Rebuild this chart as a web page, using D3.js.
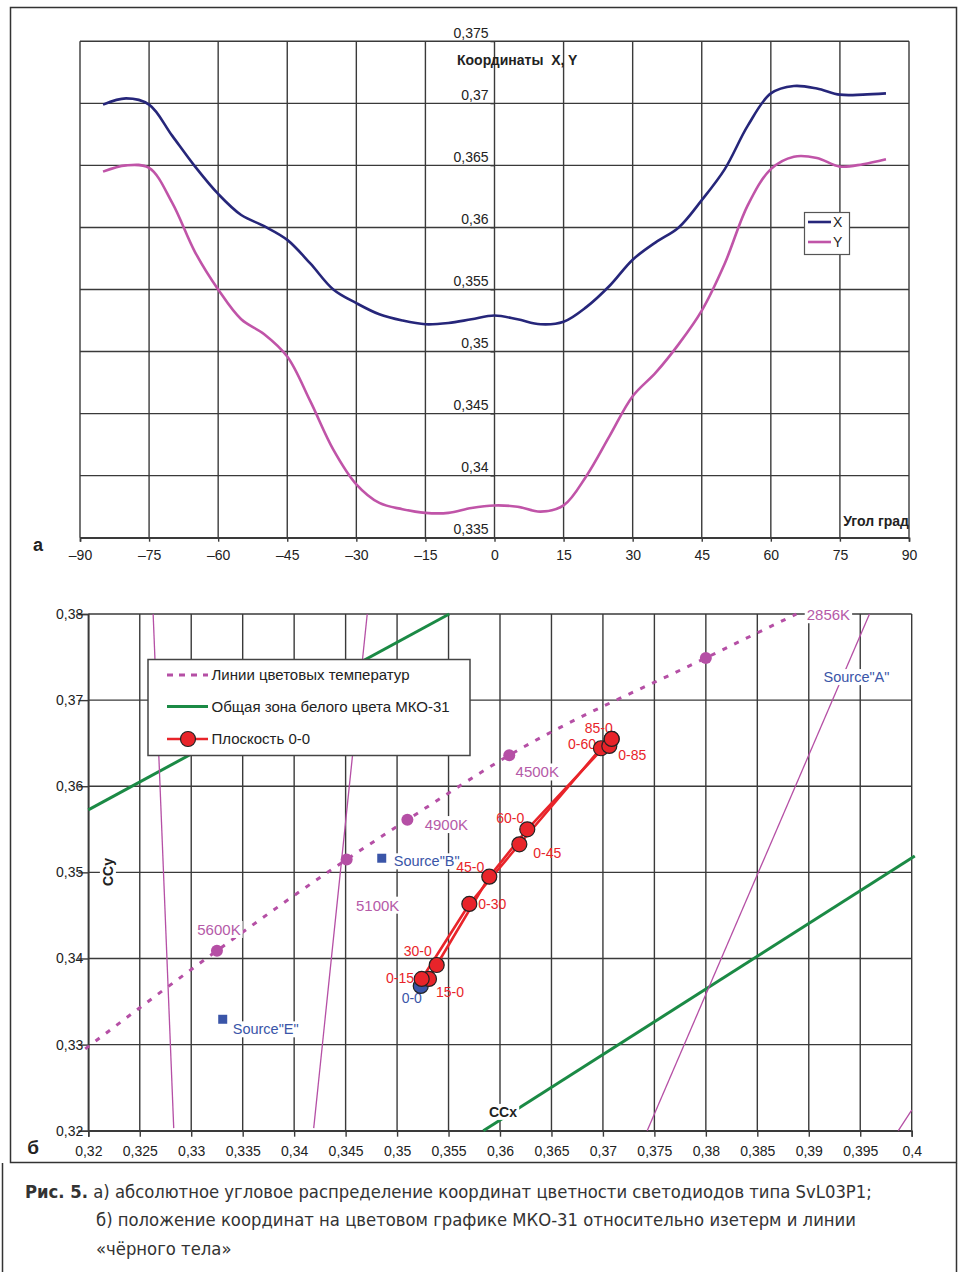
<!DOCTYPE html>
<html>
<head>
<meta charset="utf-8">
<script src="https://cdn.jsdelivr.net/npm/d3@7"></script>
<style>
body { margin: 0; background: #fff; }
svg { display: block; font-family: "Liberation Sans", Arial, sans-serif; }
</style>
</head>
<body>
<script>
// ---- chart a: angular distribution of X, Y ----
const angles = [-85, -80, -75, -70, -65, -60, -55, -50, -45, -40, -35, -30, -25, -20, -15, -10, -5,
    0, 5, 10, 15, 20, 25, 30, 35, 40, 45, 50, 55, 60, 65, 70, 75, 80, 85]
const coordX = [0.3699, 0.3704, 0.3699, 0.3674, 0.3649, 0.3627, 0.3610, 0.3601, 0.3590, 0.3571, 0.3550,
    0.3539, 0.3530, 0.3525, 0.3522, 0.3523, 0.3526, 0.3529, 0.3526, 0.3522, 0.3524, 0.3536, 0.3553,
    0.3574, 0.3588, 0.3600, 0.3622, 0.3647, 0.3682, 0.3708, 0.3714, 0.3712, 0.3707, 0.3707, 0.3708]
const coordY = [0.3645, 0.3650, 0.3648, 0.3620, 0.3580, 0.3550, 0.3526, 0.3514, 0.3496, 0.3460, 0.3421,
    0.3393, 0.3378, 0.3373, 0.3370, 0.3370, 0.3374, 0.3376, 0.3375, 0.3371, 0.3376, 0.3400, 0.3432,
    0.3464, 0.3483, 0.3506, 0.3533, 0.3571, 0.3618, 0.3647, 0.3657, 0.3656, 0.3649, 0.3651, 0.3655]
const angleTicks = [-90, -75, -60, -45, -30, -15, 0, 15, 30, 45, 60, 75, 90]
const valueTicks = [0.335, 0.34, 0.345, 0.35, 0.355, 0.36, 0.365, 0.37, 0.375]

// ---- chart б: CIE 1931 diagram ----
const ccxTicks = [0.32, 0.325, 0.33, 0.335, 0.34, 0.345, 0.35, 0.355, 0.36, 0.365, 0.37, 0.375,
    0.38, 0.385, 0.39, 0.395, 0.4]
const ccyTicks = [0.32, 0.33, 0.34, 0.35, 0.36, 0.37, 0.38]

const locusX = [0.3197, 0.3325, 0.3451, 0.3510, 0.3609, 0.3800, 0.3888]
const locusY = [0.3295, 0.3409, 0.3515, 0.3561, 0.3636, 0.3749, 0.3800]
const tempDotX = [0.3325, 0.3451, 0.3510, 0.3609, 0.3800]
const tempDotY = [0.3409, 0.3515, 0.3561, 0.3636, 0.3749]
const tempNames = ["5600K", "5100K", "4900K", "4500K", "2856K"]

const isoLines = [
    [[0.3263, 0.38], [0.3283, 0.3203]],
    [[0.3471, 0.38], [0.3419, 0.3203]],
    [[0.3959, 0.38], [0.3743, 0.32]],
    [[0.3987, 0.32], [0.4000, 0.3224]]
]
const zoneLines = [
    [[0.32, 0.35725], [0.35507, 0.38]],
    [[0.35838, 0.32], [0.4003, 0.3519]]
]

const sourceNames = ['Source"B"', 'Source"E"']
const sourceX = [0.34851, 0.33306]
const sourceY = [0.35164, 0.33294]

// plane 0-0: angle along one axis (X-0) and along the other (0-X)
const rowNames = ["0-0", "15-0", "30-0", "45-0", "60-0", "85-0"]
const rowX = [0.3523, 0.3531, 0.35385, 0.35896, 0.36265, 0.37085]
const rowY = [0.33681, 0.33762, 0.33924, 0.3495, 0.3550, 0.36549]
const colNames = ["0-0", "0-15", "0-30", "0-45", "0-60", "0-85"]
const colX = [0.3523, 0.35239, 0.35702, 0.36188, 0.36981, 0.37062]
const colY = [0.33681, 0.33762, 0.34633, 0.35326, 0.36441, 0.36468]

const W = 962
const H = 1272

const gridColor = "#3a3a3a"
const navy = "#26267a"
const pink = "#c054a8"
const locusColor = "#b54fa5"
const green = "#1b8a45"
const red = "#e8242a"
const blue = "#3a55a8"

const comma = v => String(v).replace(".", ",")

const svg = d3.select("body").append("svg")
    .attr("width", W)
    .attr("height", H)

// outer frame
svg.append("rect")
    .attr("x", 10.5).attr("y", 7.5)
    .attr("width", 946).attr("height", 1155)
    .attr("fill", "none").attr("stroke", "#333").attr("stroke-width", 1.5)
svg.append("path")
    .attr("d", "M2.5,1163V1272M956.5,1163V1272")
    .attr("stroke", "#333").attr("stroke-width", 1.5)

function bgLabel(g, txt, x, y, color, size, anchor, weight, noBg) {
    const t = g.append("text")
        .attr("x", x).attr("y", y).attr("dy", "0.35em")
        .attr("text-anchor", anchor || "middle")
        .attr("fill", color)
        .attr("font-size", size)
        .attr("font-weight", weight || "normal")
        .text(txt)
    if (noBg) return t
    const b = t.node().getBBox()
    g.insert("rect", () => t.node())
        .attr("x", b.x - 2).attr("y", b.y)
        .attr("width", b.width + 4).attr("height", b.height)
        .attr("fill", "#fff")
    return t
}

// ================= chart a =================
const xA = d3.scaleLinear().domain([-90, 90]).range([80, 909])
const yA = d3.scaleLinear().domain([0.335, 0.375]).range([537.7, 41.3])

const gA = svg.append("g")

gA.selectAll(".vgrid").data(angleTicks).enter().append("line")
    .attr("x1", d => xA(d)).attr("x2", d => xA(d))
    .attr("y1", yA(0.375)).attr("y2", yA(0.335))
    .attr("stroke", gridColor).attr("stroke-width", 1.4)
gA.selectAll(".hgrid").data(valueTicks).enter().append("line")
    .attr("x1", xA(-90)).attr("x2", xA(90))
    .attr("y1", d => yA(d)).attr("y2", d => yA(d))
    .attr("stroke", gridColor).attr("stroke-width", 1.4)

const axA = gA.append("g")
    .attr("transform", `translate(0, ${yA(0.335)})`)
    .call(d3.axisBottom(xA).tickValues(angleTicks).tickSize(4).tickPadding(8)
        .tickFormat(d => (d < 0 ? "–" : "") + Math.abs(d)))
axA.select(".domain").attr("stroke", gridColor).attr("stroke-width", 1.6)
axA.selectAll("line").attr("stroke", gridColor).attr("stroke-width", 1.4)
axA.selectAll("text").attr("font-size", 14).attr("fill", "#222")
    .attr("font-family", "Liberation Sans, Arial, sans-serif")

const ayA = gA.append("g")
    .attr("transform", `translate(${xA(0)}, 0)`)
    .call(d3.axisLeft(yA).tickValues(valueTicks).tickSize(4).tickPadding(2).tickFormat(comma))
ayA.select(".domain").remove()
ayA.selectAll("line").attr("stroke", gridColor)
ayA.selectAll("text").attr("font-size", 14).attr("fill", "#222").attr("dy", "-0.3em")
    .attr("font-family", "Liberation Sans, Arial, sans-serif")

const lineA = d3.line().curve(d3.curveCatmullRom.alpha(0.5))
gA.append("path")
    .attr("d", lineA(angles.map((a, i) => [xA(a), yA(coordX[i])])))
    .attr("fill", "none").attr("stroke", navy).attr("stroke-width", 2.6)
gA.append("path")
    .attr("d", lineA(angles.map((a, i) => [xA(a), yA(coordY[i])])))
    .attr("fill", "none").attr("stroke", pink).attr("stroke-width", 2.6)

gA.append("text")
    .attr("x", 457).attr("y", 60).attr("dy", "0.35em")
    .attr("font-size", 14).attr("font-weight", "bold").attr("fill", "#222")
    .text("Координаты\u00a0 X, Y")
gA.append("text")
    .attr("x", xA(90)).attr("y", 521).attr("dy", "0.35em").attr("text-anchor", "end")
    .attr("font-size", 14).attr("font-weight", "bold").attr("fill", "#222")
    .text("Угол град")
gA.append("text")
    .attr("x", 38).attr("y", 545).attr("dy", "0.35em").attr("text-anchor", "middle")
    .attr("font-size", 18).attr("font-weight", "bold").attr("fill", "#222")
    .text("а")

// legend a
const legA = gA.append("g").attr("transform", "translate(804, 212)")
legA.append("rect").attr("x", 0.5).attr("y", 0.5).attr("width", 45).attr("height", 42)
    .attr("fill", "#fff").attr("stroke", "#555").attr("stroke-width", 1.2)
;[["X", navy], ["Y", pink]].forEach(([name, col], i) => {
    legA.append("line").attr("x1", 4).attr("x2", 27).attr("y1", 10 + i * 20).attr("y2", 10 + i * 20)
        .attr("stroke", col).attr("stroke-width", 2.6)
    legA.append("text").attr("x", 29).attr("y", 10 + i * 20).attr("dy", "0.35em")
        .attr("font-size", 14).attr("fill", "#222").text(name)
})

// ================= chart б =================
const xB = d3.scaleLinear().domain([0.32, 0.4]).range([88.3, 911.7])
const yB = d3.scaleLinear().domain([0.32, 0.38]).range([1130.7, 614])

const gB = svg.append("g")

gB.selectAll(".vgrid").data(ccxTicks).enter().append("line")
    .attr("x1", d => xB(d)).attr("x2", d => xB(d))
    .attr("y1", yB(0.38)).attr("y2", yB(0.32))
    .attr("stroke", gridColor).attr("stroke-width", 1.4)
gB.selectAll(".hgrid").data(ccyTicks).enter().append("line")
    .attr("x1", xB(0.32)).attr("x2", xB(0.4))
    .attr("y1", d => yB(d)).attr("y2", d => yB(d))
    .attr("stroke", gridColor).attr("stroke-width", 1.4)

const axB = gB.append("g")
    .attr("transform", `translate(0, ${yB(0.32)})`)
    .call(d3.axisBottom(xB).tickValues(ccxTicks).tickSize(6).tickPadding(9).tickFormat(comma))
axB.select(".domain").attr("stroke", gridColor).attr("stroke-width", 1.6)
axB.selectAll("line").attr("stroke", gridColor).attr("stroke-width", 1.4)
axB.selectAll("text").attr("font-size", 14).attr("fill", "#222")
    .attr("font-family", "Liberation Sans, Arial, sans-serif")

const ayB = gB.append("g")
    .attr("transform", `translate(${xB(0.32)}, 0)`)
    .call(d3.axisLeft(yB).tickValues(ccyTicks).tickSize(10).tickPadding(-5).tickFormat(comma))
ayB.select(".domain").attr("stroke", gridColor).attr("stroke-width", 1.6)
ayB.selectAll("line").attr("stroke", gridColor).attr("stroke-width", 1.4)
ayB.selectAll("text").attr("font-size", 14).attr("fill", "#222")
    .attr("font-family", "Liberation Sans, Arial, sans-serif")

// green zone boundary lines
zoneLines.forEach(seg => {
    gB.append("line")
        .attr("x1", xB(seg[0][0])).attr("y1", yB(seg[0][1]))
        .attr("x2", xB(seg[1][0])).attr("y2", yB(seg[1][1]))
        .attr("stroke", green).attr("stroke-width", 3)
})

// isotherms
isoLines.forEach(seg => {
    gB.append("line")
        .attr("x1", xB(seg[0][0])).attr("y1", yB(seg[0][1]))
        .attr("x2", xB(seg[1][0])).attr("y2", yB(seg[1][1]))
        .attr("stroke", locusColor).attr("stroke-width", 1.3)
})

// black body locus
gB.append("path")
    .attr("d", d3.line().curve(d3.curveMonotoneX)(locusX.map((x, i) => [xB(x), yB(locusY[i])])))
    .attr("fill", "none").attr("stroke", locusColor).attr("stroke-width", 3)
    .attr("stroke-dasharray", "5,8")
gB.selectAll(".tdot").data(tempDotX).enter().append("circle")
    .attr("cx", d => xB(d)).attr("cy", (d, i) => yB(tempDotY[i]))
    .attr("r", 6).attr("fill", locusColor)

// temperature labels: offsets from their dot (last one from the end of the locus)
const tempOffsets = [[2, -21], [31, 46], [39, 5], [28, 17], [32, 1]]
tempNames.forEach((name, i) => {
    const px = i < 4 ? xB(tempDotX[i]) : xB(locusX[locusX.length - 1])
    const py = i < 4 ? yB(tempDotY[i]) : yB(locusY[locusY.length - 1])
    bgLabel(gB, name, px + tempOffsets[i][0], py + tempOffsets[i][1], "#b55aa8", 15)
})

// sources
gB.selectAll(".src").data(sourceX).enter().append("rect")
    .attr("x", d => xB(d) - 4.5).attr("y", (d, i) => yB(sourceY[i]) - 4.5)
    .attr("width", 9).attr("height", 9).attr("fill", blue)
const srcOffsets = [[12, 3], [10, 10]]
sourceNames.forEach((name, i) => {
    bgLabel(gB, name, xB(sourceX[i]) + srcOffsets[i][0], yB(sourceY[i]) + srcOffsets[i][1], blue, 14.5, "start")
})
bgLabel(gB, 'Source"A"', xB(isoLines[2][0][0]) - 13, yB(isoLines[2][0][1]) + 63, blue, 14.5)

bgLabel(gB, "CCx", 503, 1112, "#222", 14, "middle", "bold")
const ccy = gB.append("g").attr("transform", "translate(108, 872) rotate(-90)")
bgLabel(ccy, "CCy", 0, 0, "#222", 14, "middle", "bold")

gB.append("text")
    .attr("x", 33).attr("y", 1147).attr("dy", "0.35em").attr("text-anchor", "middle")
    .attr("font-size", 19).attr("font-weight", "bold").attr("fill", "#222")
    .text("б")

// plane labels
const planeOffsets = {
    "15-0": [21, 12.7], "30-0": [-19, -14], "45-0": [-19, -10], "60-0": [-17, -11], "85-0": [-13, -11],
    "0-15": [-21.7, -1.3], "0-30": [23, 0], "0-45": [28, 9], "0-60": [-19, -4.5], "0-85": [23, 9]
}
rowNames.concat(colNames).forEach((name, k) => {
    if (name === "0-0") return
    const i = k < rowNames.length ? k : k - rowNames.length
    const px = k < rowNames.length ? xB(rowX[i]) : xB(colX[i])
    const py = k < rowNames.length ? yB(rowY[i]) : yB(colY[i])
    bgLabel(gB, name, px + planeOffsets[name][0], py + planeOffsets[name][1], red, 14, "middle", "normal", true)
})
bgLabel(gB, "0-0", xB(rowX[0]) - 9, yB(rowY[0]) + 12, blue, 14, "middle", "normal", true)

// plane 0-0 lines and points
const lineB = d3.line()
gB.append("path")
    .attr("d", lineB(rowX.map((x, i) => [xB(x), yB(rowY[i])])))
    .attr("fill", "none").attr("stroke", red).attr("stroke-width", 2.6)
gB.append("path")
    .attr("d", lineB(colX.map((x, i) => [xB(x), yB(colY[i])])))
    .attr("fill", "none").attr("stroke", red).attr("stroke-width", 2.6)

gB.append("circle")
    .attr("cx", xB(rowX[0])).attr("cy", yB(rowY[0])).attr("r", 7.5)
    .attr("fill", blue).attr("stroke", "#222").attr("stroke-width", 1.2)
gB.selectAll(".rowpt").data(rowX.slice(1)).enter().append("circle")
    .attr("cx", d => xB(d)).attr("cy", (d, i) => yB(rowY[i + 1])).attr("r", 7.5)
    .attr("fill", red).attr("stroke", "#222").attr("stroke-width", 1.2)
gB.selectAll(".colpt").data(colX.slice(1)).enter().append("circle")
    .attr("cx", d => xB(d)).attr("cy", (d, i) => yB(colY[i + 1])).attr("r", 7.5)
    .attr("fill", red).attr("stroke", "#222").attr("stroke-width", 1.2)
gB.append("circle")
    .attr("cx", xB(rowX[5])).attr("cy", yB(rowY[5])).attr("r", 7.5)
    .attr("fill", red).attr("stroke", "#222").attr("stroke-width", 1.2)

// legend б
const legB = gB.append("g").attr("transform", "translate(148, 659.5)")
legB.append("rect").attr("x", 0).attr("y", 0).attr("width", 322).attr("height", 96)
    .attr("fill", "#fff").attr("stroke", "#444").attr("stroke-width", 1.5)
legB.append("line").attr("x1", 19).attr("x2", 60).attr("y1", 15.5).attr("y2", 15.5)
    .attr("stroke", locusColor).attr("stroke-width", 3).attr("stroke-dasharray", "6,6")
legB.append("line").attr("x1", 19).attr("x2", 60).attr("y1", 47).attr("y2", 47)
    .attr("stroke", green).attr("stroke-width", 3)
legB.append("line").attr("x1", 19).attr("x2", 60).attr("y1", 79.5).attr("y2", 79.5)
    .attr("stroke", red).attr("stroke-width", 2.6)
legB.append("circle").attr("cx", 40).attr("cy", 79.5).attr("r", 7.5)
    .attr("fill", red).attr("stroke", "#222").attr("stroke-width", 1.2)
;["Линии цветовых температур", "Общая зона белого цвета МКО-31", "Плоскость 0-0"].forEach((t, i) => {
    legB.append("text").attr("x", 63.5).attr("y", [15.5, 47, 79.5][i]).attr("dy", "0.35em")
        .attr("font-size", 15).attr("fill", "#222").text(t)
})

// ================= caption =================
const cap = svg.append("g")
    .attr("font-family", "'Liberation Sans Narrow', 'DejaVu Sans Condensed', sans-serif")
    .attr("font-size", 18.3).attr("fill", "#333")
const l1 = cap.append("text").attr("x", 25).attr("y", 1198)
l1.append("tspan").attr("font-weight", "bold").text("Рис. 5.")
l1.append("tspan").text(" а) абсолютное угловое распределение координат цветности светодиодов типа SvL03P1;")
cap.append("text").attr("x", 96).attr("y", 1226)
    .text("б) положение координат на цветовом графике МКО-31 относительно изетерм и линии")
cap.append("text").attr("x", 96).attr("y", 1255)
    .text("«чёрного тела»")
</script>
</body>
</html>
